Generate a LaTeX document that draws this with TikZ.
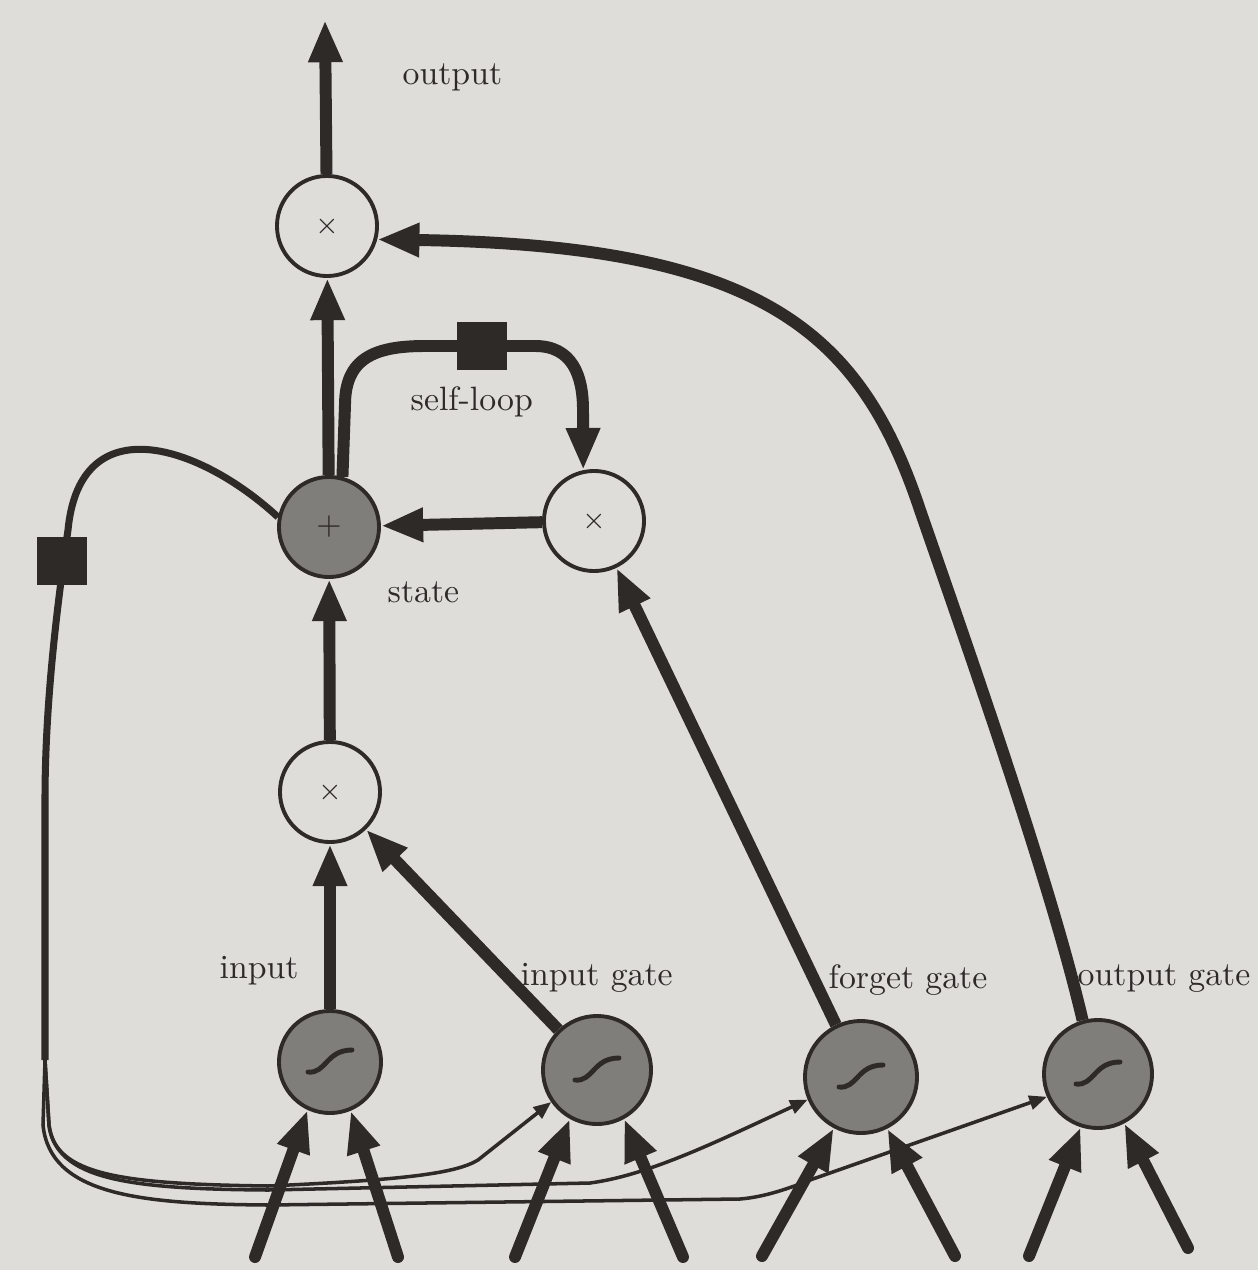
\documentclass[tikz,border=0pt]{standalone}
\usetikzlibrary{arrows.meta}
\definecolor{paper}{RGB}{222,221,218}
\definecolor{ink}{RGB}{45,42,40}
\definecolor{nodegray}{RGB}{128,126,123}
\begin{document}
\begin{tikzpicture}[x=0.01cm,y=-0.01cm,
  op/.style={circle,draw=ink,line width=1.1pt,fill=paper,minimum size=1cm,inner sep=0pt,text=ink,font=\fontsize{8}{8}\selectfont},
  gate/.style={circle,draw=ink,line width=1.1pt,fill=nodegray,inner sep=0pt},
  big/.style={draw=ink,line width=3.4pt,-{Triangle[length=12pt,width=9pt]}},
  bigr/.style={big,line cap=round},
  thinarr/.style={draw=ink,line width=1pt,-{Triangle[length=5pt,width=4pt]}},
  trunk/.style={draw=ink,line width=2pt},
  lbl/.style={anchor=base west,inner sep=0pt,text=ink,font=\fontsize{9.6}{11}\selectfont},
  sq/.style={rectangle,fill=ink,minimum width=0.5cm,minimum height=0.48cm,inner sep=0pt},
  sig/.style={draw=ink,line width=1.4pt,line cap=round}
]
\fill[paper] (0,0) rectangle (1258,1270);
\useasboundingbox (0,0) rectangle (1258,1270);

% operation nodes
\node[op] (om) at (327,226) {$\times$};
\node[op,fill=nodegray,font=\fontsize{9}{9}\selectfont] (st) at (329,527) {$+$};
\node[op] (sm) at (594,521) {$\times$};
\node[op] (im) at (330,792) {$\times$};

% sigmoid units
\node[gate,minimum size=1.02cm] (gi) at (330,1062) {};
\node[gate,minimum size=1.08cm] (gig) at (597,1070) {};
\node[gate,minimum size=1.12cm] (gf) at (861,1077) {};
\node[gate,minimum size=1.08cm] (go) at (1098,1074) {};
\foreach \n in {gi,gig,gf,go}{
  \begin{scope}[shift={(\n.center)}]
    \draw[sig] (-22,10) .. controls (-4,12) and (-4,-12) .. (22,-12);
  \end{scope}
}

% labels
\node[lbl] (lo) at (402,85) {output};
\node[lbl] (ls) at (410,410) {self-loop};
\node[lbl] (lst) at (387,602) {state};
\node[lbl] (li) at (219,978) {input};
\node[lbl] (lig) at (520,985) {input gate};
\node[lbl] (lfg) at (828,988) {forget gate};
\node[lbl] (log) at (1077,985) {output gate};

% main arrows
\coordinate (top) at (325,20);
\draw[big] (om) -- (top);
\draw[big] (st) -- (om);
\draw[big] (sm) -- (st);
\draw[big] (im) -- (st);
\draw[big] (gi) -- (im);
\draw[big] (gig) -- (im);
\draw[big] (gf) -- (sm);
\draw[big] (go.106) .. controls (1050,880) and (965,640) .. (920,510)
           .. controls (860,330) and (760,245) .. (om.345);

% self-loop
\draw[big] (st.75) -- (345,405) .. controls (345,358) and (375,346) .. (425,346)
           -- (535,346) .. controls (572,346) and (583,375) .. (583,410) -- (sm.102);
\node[sq] (sq1) at (482,346) {};

% peephole connections from the state
\coordinate (split) at (45,1060);
\draw[trunk] (st.169) .. controls (200,445) and (80,405) .. (68,530)
             .. controls (58,600) and (45,700) .. (45,800) -- (split);
\node[sq] (sq2) at (62,561) {};
\draw[thinarr] (split) -- (49,1125) .. controls (55,1175) and (120,1184) .. (268,1186)
               .. controls (400,1180) and (455,1174) .. (478,1160) -- (gig.215);
\draw[thinarr] (split) -- (49,1125) .. controls (56,1180) and (130,1189) .. (268,1190)
               -- (590,1183) .. controls (650,1175) and (720,1140) .. (gf.203);
\draw[thinarr] (split) -- (43,1125) .. controls (50,1195) and (140,1204) .. (268,1205)
               -- (740,1199) .. controls (765,1197) and (790,1188) .. (810,1180) -- (go.204);

% inputs from below
\coordinate (t1) at (255,1257);
\coordinate (t2) at (398,1257);
\coordinate (t3) at (515,1257);
\coordinate (t4) at (683,1257);
\coordinate (t5) at (762,1256);
\coordinate (t6) at (955,1256);
\coordinate (t7) at (1029,1256);
\coordinate (t8) at (1188,1248);
\draw[bigr] (t1) -- (gi.245);
\draw[bigr] (t2) -- (gi.293);
\draw[bigr] (t3) -- (gig.241);
\draw[bigr] (t4) -- (gig.299);
\draw[bigr] (t5) -- (gf.242);
\draw[bigr] (t6) -- (gf.297);
\draw[bigr] (t7) -- (go.252);
\draw[bigr] (t8) -- (go.298);
\end{tikzpicture}
\end{document}
